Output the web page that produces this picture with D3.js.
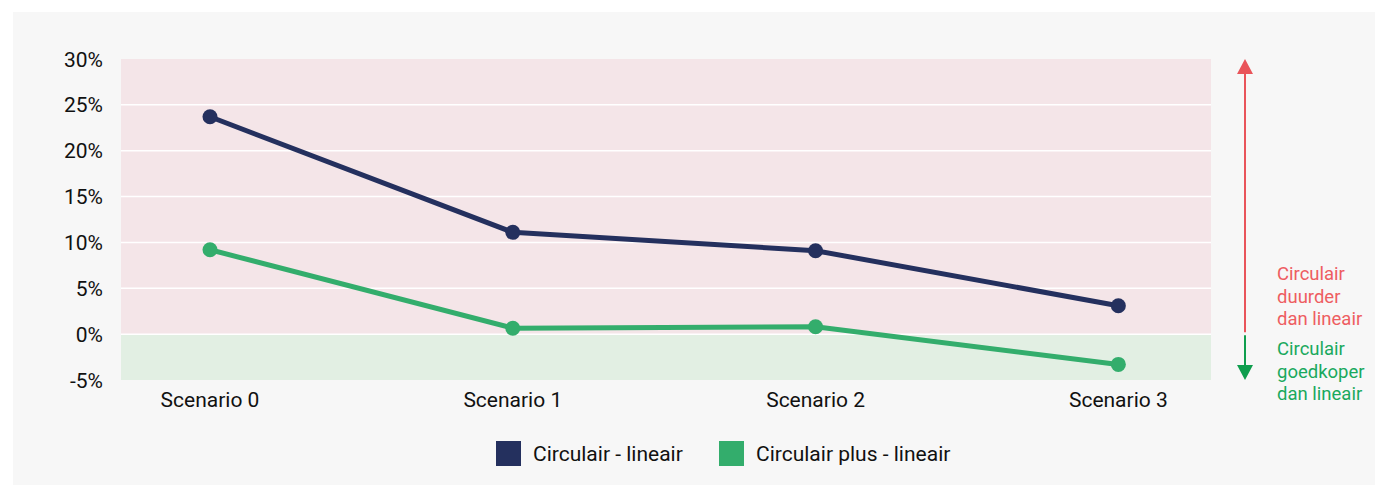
<!DOCTYPE html>
<html>
<head>
<meta charset="utf-8">
<script src="https://cdn.jsdelivr.net/npm/d3@7"></script>
<style>
  body { margin: 0; background: #fff; font-family: Roboto, sans-serif; }
</style>
</head>
<body>
<div id="chart"></div>
<script>
// chart data
var scenarios = ["Scenario 0", "Scenario 1", "Scenario 2", "Scenario 3"];
var circulair = [23.7, 11.1, 9.1, 3.1];
var circulairPlus = [9.2, 0.65, 0.8, -3.3];
var yTicks = [-5, 0, 5, 10, 15, 20, 25, 30];
var seriesNames = ["Circulair - lineair", "Circulair plus - lineair"];
var seriesColors = ["#24305e", "#33ad6c"];
var upLabel = ["Circulair", "duurder", "dan lineair"];
var downLabel = ["Circulair", "goedkoper", "dan lineair"];

var W = 1375, H = 486;
var margin = {top: 59, right: 164, bottom: 106, left: 121};
var width = W - margin.left - margin.right;
var height = H - margin.top - margin.bottom;

var svg = d3.select("#chart").append("svg")
    .attr("width", W).attr("height", H);

// grey panel
svg.append("rect")
    .attr("x", 13).attr("y", 12)
    .attr("width", W - 13).attr("height", 473)
    .attr("fill", "#f7f7f7");

var x = d3.scalePoint().domain(scenarios).range([0, width]).padding(0.3).align(0.49);
var y = d3.scaleLinear().domain([-5, 30]).range([height, 0]);

var g = svg.append("g")
    .attr("transform", "translate(" + margin.left + "," + margin.top + ")");

// background zones
g.append("rect")
    .attr("x", 0).attr("y", y(30))
    .attr("width", width).attr("height", y(0) - y(30))
    .attr("fill", "#f4e5e8");
g.append("rect")
    .attr("x", 0).attr("y", y(0))
    .attr("width", width).attr("height", y(-5) - y(0))
    .attr("fill", "#e2efe3");

// gridlines
g.selectAll(".grid")
    .data(yTicks.filter(function(d) { return d > -5 && d < 30; }))
    .enter().append("line")
    .attr("class", "grid")
    .attr("x1", 0).attr("x2", width)
    .attr("y1", function(d) { return y(d); })
    .attr("y2", function(d) { return y(d); })
    .attr("stroke", "#ffffff")
    .attr("stroke-width", 1.5);

// y axis labels
g.selectAll(".ylab")
    .data(yTicks)
    .enter().append("text")
    .attr("class", "ylab")
    .attr("x", -18)
    .attr("y", function(d) { return y(d) + 7.5; })
    .attr("text-anchor", "end")
    .attr("font-size", 21)
    .attr("fill", "#111")
    .text(function(d) { return d + "%"; });

// x axis labels
g.selectAll(".xlab")
    .data(scenarios)
    .enter().append("text")
    .attr("class", "xlab")
    .attr("x", function(d) { return x(d); })
    .attr("y", height + 27)
    .attr("text-anchor", "middle")
    .attr("font-size", 21)
    .attr("fill", "#111")
    .text(function(d) { return d; });

// lines + dots
var series = [circulair, circulairPlus];
var line = d3.line()
    .x(function(d, i) { return x(scenarios[i]); })
    .y(function(d) { return y(d); });

series.forEach(function(vals, k) {
  g.append("path")
      .datum(vals)
      .attr("d", line)
      .attr("fill", "none")
      .attr("stroke", seriesColors[k])
      .attr("stroke-width", 5)
      .attr("stroke-linejoin", "round");
  g.selectAll(".dot" + k)
      .data(vals)
      .enter().append("circle")
      .attr("class", "dot" + k)
      .attr("cx", function(d, i) { return x(scenarios[i]); })
      .attr("cy", function(d) { return y(d); })
      .attr("r", 7.5)
      .attr("fill", seriesColors[k]);
});

// arrows on the right
var ax = width + 34;
var red = "#e9545a", green = "#0f9e4e";
g.append("line")
    .attr("x1", ax).attr("x2", ax)
    .attr("y1", y(0) - 2).attr("y2", y(30) + 12)
    .attr("stroke", red).attr("stroke-width", 2);
g.append("path")
    .attr("d", "M" + (ax - 8) + "," + (y(30) + 15) + "L" + ax + "," + y(30) + "L" + (ax + 8) + "," + (y(30) + 15) + "Z")
    .attr("fill", red);
g.append("line")
    .attr("x1", ax).attr("x2", ax)
    .attr("y1", y(0) + 1).attr("y2", y(-5) - 12)
    .attr("stroke", green).attr("stroke-width", 2);
g.append("path")
    .attr("d", "M" + (ax - 8) + "," + (y(-5) - 15) + "L" + ax + "," + y(-5) + "L" + (ax + 8) + "," + (y(-5) - 15) + "Z")
    .attr("fill", green);

// annotation texts
g.selectAll(".up")
    .data(upLabel)
    .enter().append("text")
    .attr("x", ax + 32)
    .attr("y", function(d, i) { return y(0) - 54 + i * 22.5; })
    .attr("font-size", 18.5)
    .attr("fill", "#ee5d61")
    .text(function(d) { return d; });
g.selectAll(".down")
    .data(downLabel)
    .enter().append("text")
    .attr("x", ax + 32)
    .attr("y", function(d, i) { return y(0) + 21 + i * 22.5; })
    .attr("font-size", 18.5)
    .attr("fill", "#1aa95d")
    .text(function(d) { return d; });

// legend
var legendX = [496, 719];
var legend = svg.selectAll(".legend")
    .data(seriesNames)
    .enter().append("g")
    .attr("class", "legend")
    .attr("transform", function(d, i) { return "translate(" + legendX[i] + ",441)"; });
legend.append("rect")
    .attr("width", 25).attr("height", 25)
    .attr("fill", function(d, i) { return seriesColors[i]; });
legend.append("text")
    .attr("x", 37).attr("y", 20)
    .attr("font-size", 21)
    .attr("fill", "#111")
    .text(function(d) { return d; });
</script>
</body>
</html>
